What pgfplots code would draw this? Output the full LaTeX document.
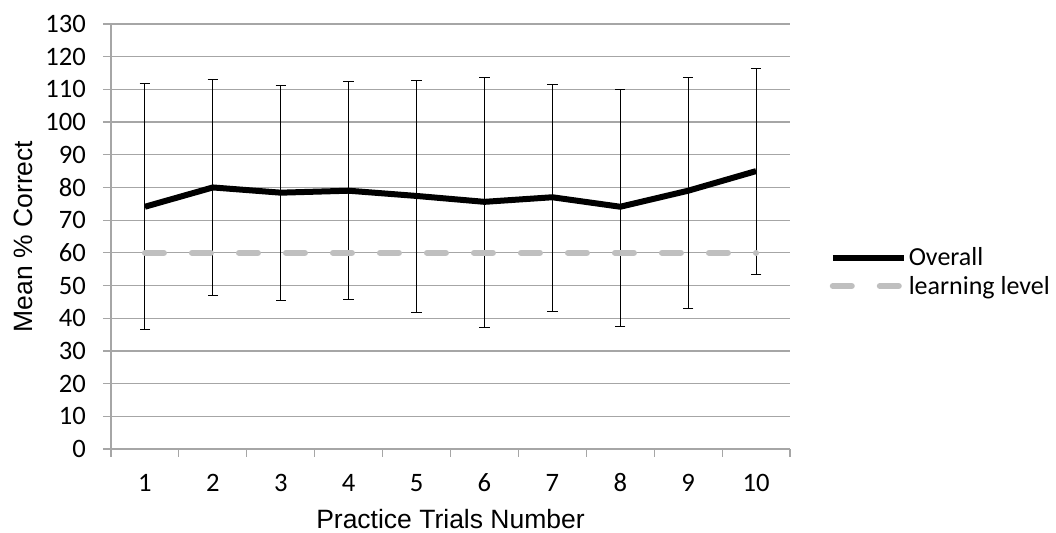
\documentclass[border=0pt]{standalone}
\usepackage{pgfplots}
\pgfplotsset{compat=1.18}
\usepackage{fontspec}
\setmainfont{Carlito}
\newfontfamily\arial{Liberation Sans}
\definecolor{gridgray}{RGB}{166,166,166}
\definecolor{lvlgray}{RGB}{191,191,191}
\pgfplotsset{legend image code/.code={\draw[#1] (0pt,1pt) -- (35.5pt,1pt);}}
\pgfplotstableread{
x y ep em
1 74.1 37.8 37.7
2 80.0 33.1 33.0
3 78.4 32.9 33.0
4 79.0 33.4 33.4
5 77.4 35.4 35.7
6 75.6 37.9 38.3
7 77.0 34.5 35.0
8 74.1 36.0 36.7
9 79.0 34.7 36.0
10 85.0 31.5 31.7
}\overall
\begin{document}
\begin{tikzpicture}
\useasboundingbox (-55.5pt,-42pt) rectangle (472.5pt,224.5pt);
\begin{axis}[
  at={(0pt,0pt)}, anchor=south west, scale only axis,
  width=339.5pt, height=212.5pt,
  xmin=0.5, xmax=10.5, ymin=0, ymax=130,
  axis x line*=bottom, axis y line*=left,
  axis line style={gridgray, line width=0.6pt, -},
  xtick={0.5,1.5,...,10.5},
  xticklabels={1,2,3,4,5,6,7,8,9,10},
  x tick label as interval,
  ytick={0,10,...,130},
  tick align=outside, major tick length=4pt,
  tick style={gridgray, line width=0.6pt},
  ymajorgrids, major grid style={gridgray, line width=0.6pt},
  tick label style={font=\fontsize{13.3}{15}\selectfont, black},
  xticklabel style={anchor=base, yshift=-17.5pt},
  yticklabel style={xshift=-5pt},
  /pgf/number format/assume math mode=true,
  xlabel={\arial Practice Trials Number},
  xlabel style={font=\fontsize{13.25}{15}\selectfont, at={([yshift=-40pt]axis description cs:0.5,0)}, anchor=base},
  ylabel={\arial Mean \% Correct},
  ylabel style={font=\fontsize{13.25}{15}\selectfont, at={([xshift=-44pt]axis description cs:0,0.5)}, anchor=center},
  legend style={at={(1.058,0.412)}, anchor=west, draw=none, fill=none,
    font=\fontsize{13}{15}\selectfont, inner sep=0pt,
    nodes={inner sep=0pt, text height=9pt, text depth=3pt},
    row sep=2.15pt,
    /tikz/every odd column/.append style={column sep=1pt}},
  legend cell align=left,
  clip=false,
]
\addplot[black, line width=3pt, line join=round, mark=none,
  error bars/.cd, y dir=both, y explicit,
  error bar style={line width=0.5pt, black},
  error mark options={rotate=90, mark size=2.6pt, line width=0.5pt, black}]
  table[x=x, y=y, y error plus=ep, y error minus=em] {\overall};
\addlegendentry{Overall}
\addplot[lvlgray, line width=3pt, line cap=round, dash pattern=on 9.5pt off 14pt, mark=none]
  coordinates {(1,60) (10,60)};
\addlegendentry{learning level}
\end{axis}
\end{tikzpicture}
\end{document}
